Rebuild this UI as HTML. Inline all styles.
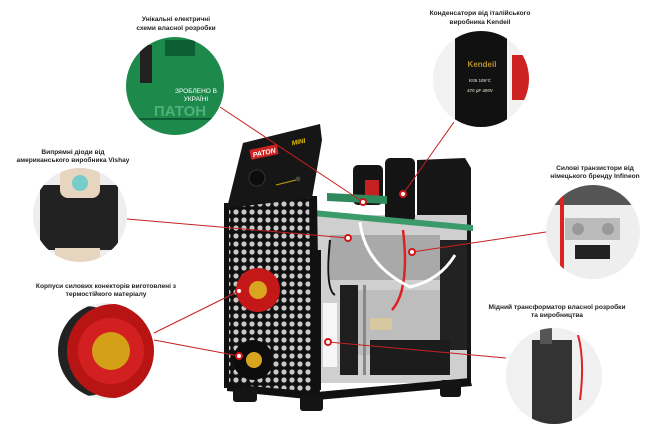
<!DOCTYPE html>
<html><head><meta charset="utf-8"><style>
html,body{margin:0;padding:0;background:#fff;}
svg{display:block}
text{font-family:"Liberation Sans","DejaVu Sans",sans-serif;font-weight:bold;font-size:6.6px;fill:#222;text-anchor:middle}
</style></head><body>
<svg width="651" height="429" viewBox="0 0 651 429" xmlns="http://www.w3.org/2000/svg">
<defs>
<pattern id="holes" width="8" height="8" patternUnits="userSpaceOnUse">
<rect width="8" height="8" fill="#111"/><circle cx="4" cy="4" r="2.6" fill="#c8c8c8"/>
</pattern>
<clipPath id="c1"><circle cx="175" cy="86" r="49"/></clipPath>
<clipPath id="c2"><circle cx="481" cy="79" r="48"/></clipPath>
<clipPath id="c3"><circle cx="80" cy="215" r="47"/></clipPath>
<clipPath id="c4"><circle cx="593" cy="232" r="47"/></clipPath>
<clipPath id="c5"><circle cx="106" cy="351" r="48"/></clipPath>
<clipPath id="c6"><circle cx="554" cy="376" r="48"/></clipPath>
</defs>

<!-- labels -->
<text x="176" y="21">Унікальні електричні</text>
<text x="176" y="30">схеми власної розробки</text>
<text x="480" y="15">Конденсатори від італійського</text>
<text x="480" y="24">виробника Kendeil</text>
<text x="73" y="154">Випрямні діоди від</text>
<text x="73" y="162">американського виробника Vishay</text>
<text x="595" y="170">Силові транзистори від</text>
<text x="595" y="178">німецького бренду Infineon</text>
<text x="106" y="288">Корпуси силових конекторів виготовлені з</text>
<text x="106" y="296">термостійкого матеріалу</text>
<text x="557" y="309">Мідний трансформатор власної розробки</text>
<text x="557" y="317">та виробництва</text>

<!-- machine -->
<g>
<!-- back panel -->
<path d="M417 160 L465 158 L471 168 L471 382 L417 382 Z" fill="#161616"/>
<rect x="317" y="215" width="150" height="168" fill="#cfcfcf"/>
<rect x="330" y="235" width="110" height="45" fill="#a9a9a9"/>
<rect x="340" y="290" width="100" height="65" fill="#bdbdbd"/>
<rect x="440" y="240" width="27" height="110" fill="#222"/>
<rect x="353" y="165" width="30" height="40" rx="5" fill="#141414"/>
<rect x="385" y="158" width="30" height="64" rx="5" fill="#141414"/>
<rect x="365" y="180" width="14" height="20" fill="#c62020"/>
<path d="M327 193 L387 196 L387 204 L327 201 Z" fill="#2e8a5c"/>
<path d="M313 210 L473 225 L473 231 L313 216 Z" fill="#3a9a6a"/>
<path d="M403 230 Q410 290 392 310" stroke="#d22" stroke-width="2.5" fill="none"/>
<path d="M360 222 Q365 265 410 287 Q440 280 455 255" stroke="#fff" stroke-width="3" fill="none"/>
<path d="M330 240 Q325 290 335 295" stroke="#111" stroke-width="2" fill="none"/>
<rect x="323" y="303" width="14" height="64" fill="#f6f6f6"/>
<rect x="340" y="285" width="18" height="90" fill="#1e1e1e"/>
<rect x="363" y="285" width="3" height="90" fill="#888"/>
<rect x="370" y="318" width="22" height="12" fill="#d8c8a0"/>
<rect x="370" y="340" width="80" height="35" fill="#1c1c1c"/>
<rect x="317" y="250" width="4" height="140" fill="#111"/>
<!-- front cage -->
<path d="M227 203 L313 196 L317 397 L227 387 Z" fill="url(#holes)"/>
<path d="M224 203 L229 203 L229 388 L224 388 Z" fill="#111"/>
<path d="M309 196 L317 196 L320 398 L312 398 Z" fill="#111"/>
<path d="M227 384 L317 392 L470 378 L472 386 L317 400 L227 391 Z" fill="#111"/>
<!-- panel -->
<path d="M243 143 L320 124 L322 140 L312 198 L227 208 Z" fill="#161616"/>
<rect x="250" y="147" width="28" height="10" rx="1" fill="#c22" transform="rotate(-12 264 152)"/>
<text x="264" y="155" style="fill:#fff;font-size:7px;font-style:italic" transform="rotate(-12 264 152)">PATON</text>
<text x="299" y="144" style="fill:#e8c300;font-size:6.5px;font-style:italic" transform="rotate(-12 299 144)">MINI</text>
<circle cx="257" cy="178" r="8" fill="#0c0c0c" stroke="#333"/>
<line x1="276" y1="185" x2="296" y2="180" stroke="#c9a400" stroke-width="1"/>
<circle cx="298" cy="179" r="2.5" fill="#444"/>
<!-- feet -->
<rect x="233" y="388" width="24" height="14" rx="3" fill="#141414"/>
<rect x="300" y="396" width="23" height="15" rx="3" fill="#141414"/>
<rect x="440" y="380" width="21" height="17" rx="3" fill="#141414"/>
<!-- connectors -->
<circle cx="258" cy="290" r="22" fill="#c41818"/>
<circle cx="258" cy="290" r="9" fill="#d9a520"/>
<circle cx="253" cy="360" r="20" fill="#0c0c0c"/>
<circle cx="254" cy="360" r="8" fill="#d9a520"/>
</g>

<!-- callout circles -->
<g clip-path="url(#c1)"><rect x="120" y="30" width="120" height="120" fill="#1d8a4c"/>
<rect x="140" y="45" width="12" height="38" fill="#222"/><rect x="165" y="40" width="30" height="16" fill="#0d5f33"/>
<text x="196" y="93" style="fill:#fff;font-size:6.5px;font-weight:normal">ЗРОБЛЕНО В</text><text x="196" y="101" style="fill:#fff;font-size:6.5px;font-weight:normal">УКРАЇНІ</text>
<text x="180" y="116" style="fill:#4fb07a;font-size:15px">ПАТОН</text>
<rect x="120" y="118" width="120" height="2" fill="#0d5f33"/></g>
<g clip-path="url(#c2)"><rect x="430" y="28" width="105" height="105" fill="#f2f2f2"/>
<rect x="455" y="30" width="52" height="100" rx="8" fill="#111"/>
<rect x="512" y="55" width="20" height="45" fill="#c22"/>
<text x="482" y="67" style="fill:#b8902a;font-size:8px">Kendeil</text>
<text x="480" y="82" style="fill:#bba;font-size:4.5px">K05 105°C</text>
<text x="480" y="92" style="fill:#bba;font-size:4.5px">470 µF 400V</text></g>
<g clip-path="url(#c3)"><rect x="30" y="165" width="105" height="105" fill="#eee"/>
<rect x="40" y="185" width="78" height="65" fill="#222"/>
<rect x="60" y="168" width="40" height="30" rx="8" fill="#e6d6c0"/>
<circle cx="80" cy="183" r="8" fill="#7cc"/><rect x="55" y="248" width="45" height="14" fill="#e6d6c0"/></g>
<g clip-path="url(#c4)"><rect x="540" y="183" width="105" height="100" fill="#eee"/>
<rect x="545" y="183" width="95" height="22" fill="#555"/>
<rect x="565" y="218" width="55" height="22" fill="#bbb"/>
<circle cx="578" cy="229" r="6" fill="#999"/><circle cx="608" cy="229" r="6" fill="#999"/>
<rect x="560" y="195" width="4" height="85" fill="#d22"/><rect x="575" y="245" width="35" height="14" fill="#222"/></g>
<g clip-path="url(#c5)"><rect x="55" y="300" width="105" height="105" fill="#eee"/>
<circle cx="85" cy="351" r="45" fill="#222"/>
<circle cx="114" cy="351" r="47" fill="#b81414"/><circle cx="111" cy="351" r="33" fill="#d22020"/>
<circle cx="111" cy="351" r="19" fill="#d4a017"/></g>
<g clip-path="url(#c6)"><rect x="502" y="325" width="105" height="105" fill="#f0f0f0"/>
<rect x="532" y="340" width="40" height="90" fill="#333"/><rect x="540" y="328" width="12" height="16" fill="#555"/>
<path d="M578 335 Q585 360 580 400" stroke="#d22" stroke-width="2" fill="none"/></g>

<!-- connector lines -->
<g stroke="#c82020" stroke-width="1" fill="none">
<line x1="220" y1="107" x2="363" y2="202"/>
<line x1="454" y1="122" x2="403" y2="194"/>
<line x1="127" y1="219" x2="348" y2="238"/>
<line x1="546" y1="232" x2="412" y2="252"/>
<line x1="154" y1="333" x2="239" y2="291"/>
<line x1="154" y1="340" x2="239" y2="356"/>
<line x1="506" y1="358" x2="328" y2="342"/>
</g>
<g fill="#fff" stroke="#d01818" stroke-width="2">
<circle cx="363" cy="202" r="3"/><circle cx="403" cy="194" r="3"/><circle cx="348" cy="238" r="3"/>
<circle cx="412" cy="252" r="3"/><circle cx="239" cy="291" r="3"/><circle cx="239" cy="356" r="3"/>
<circle cx="328" cy="342" r="3"/>
</g>
</svg>
</body></html>
